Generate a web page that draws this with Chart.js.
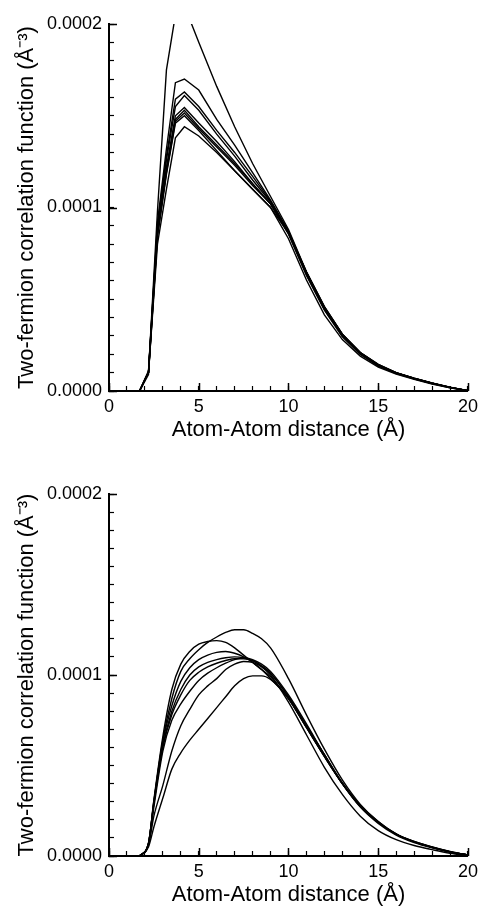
<!DOCTYPE html>
<html>
<head>
<meta charset="utf-8">
<script src="https://cdn.jsdelivr.net/npm/chart.js@4.4.0/dist/chart.umd.min.js"></script>
<style>
  html, body { margin: 0; padding: 0; background: #fff; }
  .panel { position: absolute; left: 0; width: 488px; height: 454px; }
</style>
</head>
<body>
<div class="panel" style="top:0"><canvas id="chartTop" width="488" height="454"></canvas></div>
<div class="panel" style="top:454px"><canvas id="chartBottom" width="488" height="454"></canvas></div>
<script>
// valores en unidades de 1e-5 Å^-3
const xTop = [1.7, 2.2, 2.7, 3.2, 3.7, 4.2, 5, 6, 7, 8, 9, 10, 11, 12, 13, 14, 15, 16, 17, 18, 19, 20];
const top1 = [0, 1.0, 9.8, 17.5, 20.5, 21.0, 19.0, 16.6, 14.4, 12.4, 10.6, 8.8, 6.5, 4.6, 3.1, 2.1, 1.45, 1.0, 0.7, 0.43, 0.2, 0.02];
const top2 = [0, 1.0, 9.2, 13.2, 16.8, 17.0, 16.4, 14.8, 13.4, 11.9, 10.4, 8.7, 6.45, 4.55, 3.05, 2.05, 1.4, 0.98, 0.68, 0.42, 0.2, 0.02];
const top3 = [0, 1.0, 9.0, 12.8, 15.9, 16.3, 15.5, 14.2, 13.0, 11.7, 10.35, 8.7, 6.45, 4.5, 3.05, 2.05, 1.4, 0.98, 0.68, 0.42, 0.2, 0.02];
const top4 = [0, 1.1, 8.9, 12.6, 15.5, 16.1, 15.3, 14.0, 12.8, 11.5, 10.3, 8.65, 6.4, 4.5, 3.05, 2.05, 1.4, 0.98, 0.68, 0.42, 0.2, 0.02];
const top5 = [0, 1.0, 8.7, 12.2, 15.0, 15.45, 14.6, 13.6, 12.5, 11.3, 10.2, 8.6, 6.35, 4.45, 3.0, 2.0, 1.38, 0.97, 0.67, 0.41, 0.2, 0.02];
const top6 = [0, 1.0, 8.6, 12.0, 14.8, 15.3, 14.4, 13.4, 12.4, 11.3, 10.2, 8.55, 6.3, 4.4, 2.95, 2.0, 1.36, 0.95, 0.66, 0.4, 0.18, 0.02];
const top7 = [0, 0.9, 8.5, 11.9, 14.7, 15.15, 14.3, 13.3, 12.3, 11.2, 10.2, 8.65, 6.45, 4.55, 3.1, 2.1, 1.42, 0.99, 0.68, 0.42, 0.2, 0.02];
const top8 = [0, 1.0, 8.4, 11.8, 14.6, 15.0, 14.2, 13.1, 12.0, 11.0, 10.0, 8.3, 6.05, 4.15, 2.8, 1.9, 1.3, 0.92, 0.63, 0.38, 0.17, 0.02];
const top9 = [0, 1.0, 8.0, 11.0, 13.8, 14.4, 13.9, 13.0, 12.0, 11.0, 10.0, 8.6, 6.5, 4.6, 3.1, 2.1, 1.45, 1.0, 0.7, 0.44, 0.21, 0.02];

const xBottom = [1.7, 2.2, 2.5, 3, 3.5, 4, 4.5, 5, 5.5, 6, 6.5, 7, 7.5, 8, 8.5, 9, 10, 11, 12, 13, 14, 15, 16, 17, 18, 19, 20];
const bot1 = [0, 0.7, 3.1, 6.6, 9.2, 10.6, 11.3, 11.7, 11.85, 11.9, 11.8, 11.5, 11.1, 10.7, 10.3, 9.8, 8.7, 7.1, 5.5, 4.0, 2.75, 1.85, 1.2, 0.78, 0.48, 0.23, 0.05];
const bot2 = [0, 0.7, 3.0, 6.4, 8.7, 10.2, 10.9, 11.4, 11.8, 12.1, 12.35, 12.5, 12.5, 12.3, 12.0, 11.5, 9.8, 7.8, 5.9, 4.2, 2.85, 1.9, 1.22, 0.8, 0.5, 0.25, 0.05];
const bot3 = [0, 0.7, 3.0, 6.3, 8.3, 9.65, 10.4, 10.85, 11.1, 11.25, 11.3, 11.2, 11.0, 10.7, 10.3, 9.9, 8.7, 7.1, 5.5, 4.0, 2.75, 1.85, 1.2, 0.78, 0.48, 0.23, 0.05];
const bot4 = [0, 0.7, 2.9, 6.1, 8.0, 9.2, 10.0, 10.45, 10.7, 10.85, 10.95, 11.0, 10.95, 10.8, 10.5, 10.1, 8.8, 7.2, 5.6, 4.0, 2.75, 1.85, 1.2, 0.78, 0.48, 0.23, 0.05];
const bot5 = [0, 0.7, 2.9, 6.0, 7.8, 8.9, 9.7, 10.15, 10.45, 10.65, 10.8, 10.9, 10.9, 10.8, 10.5, 10.1, 8.8, 7.2, 5.6, 4.05, 2.8, 1.9, 1.22, 0.8, 0.5, 0.24, 0.05];
const bot6 = [0, 0.6, 2.7, 5.8, 7.5, 8.4, 9.1, 9.7, 10.1, 10.4, 10.65, 10.85, 10.95, 10.85, 10.6, 10.2, 8.9, 7.3, 5.6, 4.0, 2.7, 1.8, 1.15, 0.74, 0.45, 0.22, 0.05];
const bot7 = [0, 0.6, 2.2, 3.9, 5.8, 7.2, 8.1, 8.9, 9.4, 9.8, 10.3, 10.6, 10.75, 10.7, 10.45, 10.0, 8.5, 6.7, 4.9, 3.4, 2.2, 1.4, 0.9, 0.58, 0.35, 0.15, 0.02];
const bot8 = [0, 0.5, 1.6, 3.2, 4.8, 5.7, 6.4, 7.0, 7.6, 8.2, 8.8, 9.4, 9.8, 9.95, 9.95, 9.75, 8.7, 7.1, 5.5, 4.0, 2.75, 1.85, 1.2, 0.78, 0.48, 0.23, 0.05];

const xMajor = [0, 5, 10, 15, 20];
const xTickLabels = ['0', '5', '10', '15', '20'];
const yMajor = [0, 10, 20];
const yTickLabels = ['0.0000', '0.0001', '0.0002'];

const FONT = "'Liberation Sans', Arial, Helvetica, sans-serif";

// ticks mayores más largos (hacia dentro)
const ticksMayores = {
    id: 'ticksMayores',
    afterDraw(chart) {
        const { ctx, chartArea, scales } = chart;
        ctx.save();
        ctx.strokeStyle = '#000';
        ctx.lineWidth = 1.5;
        ctx.beginPath();
        xMajor.forEach(v => {
            const px = Math.round(scales.x.getPixelForValue(v)) + 0.5;
            ctx.moveTo(px, chartArea.bottom);
            ctx.lineTo(px, chartArea.bottom - 8);
        });
        yMajor.forEach(v => {
            const py = Math.round(scales.y.getPixelForValue(v)) + 0.5;
            ctx.moveTo(chartArea.left, py);
            ctx.lineTo(chartArea.left + 8, py);
        });
        ctx.stroke();
        ctx.restore();
    }
};

function crearPanel(canvasId, xs, series, suave, padTop, xHeight, xTitlePad) {
    const datasets = series.map(ys => ({
        data: xs.map((x, i) => ({ x: x, y: ys[i] })),
        borderColor: '#000',
        borderWidth: 1.4,
        pointRadius: 0,
        fill: false,
        tension: suave ? 0.4 : 0,
        cubicInterpolationMode: suave ? 'monotone' : 'default'
    }));

    return new Chart(document.getElementById(canvasId).getContext('2d'), {
        type: 'line',
        data: { datasets: datasets },
        options: {
            responsive: false,
            animation: false,
            events: [],
            layout: { padding: { top: padTop, right: 11, left: 0, bottom: 0 } },
            plugins: { legend: { display: false }, tooltip: { enabled: false } },
            scales: {
                x: {
                    type: 'linear',
                    min: 0,
                    max: 20,
                    afterFit: scale => { scale.height = xHeight; },
                    border: { display: true, color: '#000', width: 2 },
                    grid: { drawOnChartArea: false, drawTicks: true, tickLength: -5, color: '#000', tickWidth: 1.2 },
                    ticks: {
                        stepSize: 1,
                        autoSkip: false,
                        maxRotation: 0,
                        padding: 10,
                        color: '#000',
                        font: { family: FONT, size: 18 },
                        callback: v => {
                            const k = xMajor.indexOf(v);
                            return k >= 0 ? xTickLabels[k] : '';
                        }
                    },
                    title: {
                        display: true,
                        text: 'Atom-Atom distance (Å)',
                        color: '#000',
                        font: { family: FONT, size: 22 },
                        padding: { top: 0, bottom: xTitlePad }
                    }
                },
                y: {
                    type: 'linear',
                    min: 0,
                    max: 20,
                    afterFit: scale => { scale.width = 109; },
                    border: { display: true, color: '#000', width: 2 },
                    grid: { drawOnChartArea: false, drawTicks: true, tickLength: -5, color: '#000', tickWidth: 1.2 },
                    ticks: {
                        stepSize: 1,
                        autoSkip: false,
                        padding: 12,
                        color: '#000',
                        font: { family: FONT, size: 18 },
                        callback: v => {
                            const k = yMajor.indexOf(v);
                            return k >= 0 ? yTickLabels[k] : '';
                        }
                    },
                    title: {
                        display: true,
                        text: 'Two-fermion correlation function (Å⁻³)',
                        color: '#000',
                        font: { family: FONT, size: 22 },
                        padding: { top: 14, bottom: 0 }
                    }
                }
            }
        },
        plugins: [ticksMayores]
    });
}

crearPanel('chartTop', xTop, [top1, top2, top3, top4, top5, top6, top7, top8, top9], false, 24, 63, 11);
crearPanel('chartBottom', xBottom, [bot1, bot2, bot3, bot4, bot5, bot6, bot7, bot8], true, 40, 52, 0);
</script>
</body>
</html>
